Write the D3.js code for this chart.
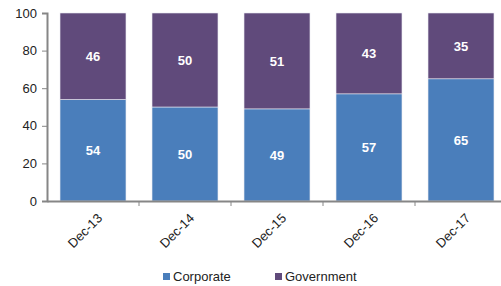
<html>
  <head>
    <style>
      body { margin: 0; background: #fff; }
      text { font-family: 'Liberation Sans', Arial, sans-serif; }
    </style>
  </head>
  <body>
    <script src="https://d3js.org/d3.v7.min.js"></script>
    <svg id="chart" width="501" height="286"></svg>
    <script>
      const periods = ['Dec-13', 'Dec-14', 'Dec-15', 'Dec-16', 'Dec-17'];
      const corporate = [54, 50, 49, 57, 65];
      const government = [46, 50, 51, 43, 35];
      const yTicks = [0, 20, 40, 60, 80, 100];
      const seriesNames = ['Corporate', 'Government'];
      const colors = ['#4a7ebb', '#604a7b'];

      const rows = periods.map((p, i) => ({ period: p, Corporate: corporate[i], Government: government[i] }));
      const stacked = d3.stack().keys(seriesNames)(rows);

      const svg = d3.select('#chart');
      const x = d3.scaleBand().domain(periods).range([47, 507]).paddingInner(0.283).paddingOuter(0.1415);
      const y = d3.scaleLinear().domain([0, 100]).range([201, 13]);

      // bars
      svg.append('g')
        .selectAll('g')
        .data(stacked)
        .enter()
        .append('g')
        .attr('fill', (d, i) => colors[i])
        .selectAll('rect')
        .data((d) => d)
        .enter()
        .append('rect')
        .attr('x', (d) => x(d.data.period))
        .attr('width', x.bandwidth())
        .attr('y', (d) => y(d[1]))
        .attr('height', (d) => y(d[0]) - y(d[1]))
        .attr('stroke', '#e8e8f0')
        .attr('stroke-width', 0.6);

      // value labels
      svg.append('g')
        .selectAll('g')
        .data(stacked)
        .enter()
        .append('g')
        .selectAll('text')
        .data((d) => d)
        .enter()
        .append('text')
        .attr('x', (d) => x(d.data.period) + x.bandwidth() / 2)
        .attr('y', (d) => (y(d[0]) + y(d[1])) / 2 + 5)
        .attr('text-anchor', 'middle')
        .attr('fill', '#fff')
        .attr('font-weight', 'bold')
        .attr('font-size', 13)
        .text((d) => d[1] - d[0]);

      // y axis
      const yAxis = svg.append('g')
        .attr('transform', 'translate(47,0)')
        .call(d3.axisLeft(y).tickValues(yTicks).tickSize(5).tickPadding(5));
      yAxis.select('.domain').attr('stroke', '#868686').attr('stroke-width', 2);
      yAxis.selectAll('.tick line').attr('stroke', '#868686');
      yAxis.selectAll('.tick text').attr('font-size', 13).attr('fill', '#222')
        .style('font-family', "'Liberation Sans', Arial, sans-serif");

      // x axis
      const xAxis = svg.append('g')
        .attr('transform', 'translate(0,201)')
        .call(d3.axisBottom(x).tickSize(0).tickSizeOuter(0));
      xAxis.select('.domain').attr('stroke', '#868686').attr('stroke-width', 2);
      xAxis.selectAll('.tick text')
        .attr('font-size', 13)
        .attr('fill', '#222')
        .style('font-family', "'Liberation Sans', Arial, sans-serif")
        .attr('text-anchor', 'end')
        .attr('dy', null)
        .attr('y', 0)
        .attr('transform', 'translate(10,18) rotate(-45)');
      // tick marks between categories
      svg.append('g')
        .selectAll('line')
        .data(periods.slice(1))
        .enter()
        .append('line')
        .attr('x1', (d) => x(d) - x.step() * x.paddingInner() / 2)
        .attr('x2', (d) => x(d) - x.step() * x.paddingInner() / 2)
        .attr('y1', 201)
        .attr('y2', 206)
        .attr('stroke', '#868686');

      // legend
      const legend = svg.append('g')
        .selectAll('g')
        .data(seriesNames)
        .enter()
        .append('g')
        .attr('transform', (d, i) => `translate(${[163, 275][i]},273)`);
      legend.append('rect').attr('width', 7).attr('height', 7).attr('fill', (d, i) => colors[i]);
      legend.append('text').attr('x', 10).attr('y', 7.5).attr('font-size', 13).attr('fill', '#222').text((d) => d);
    </script>
  </body>
</html>
